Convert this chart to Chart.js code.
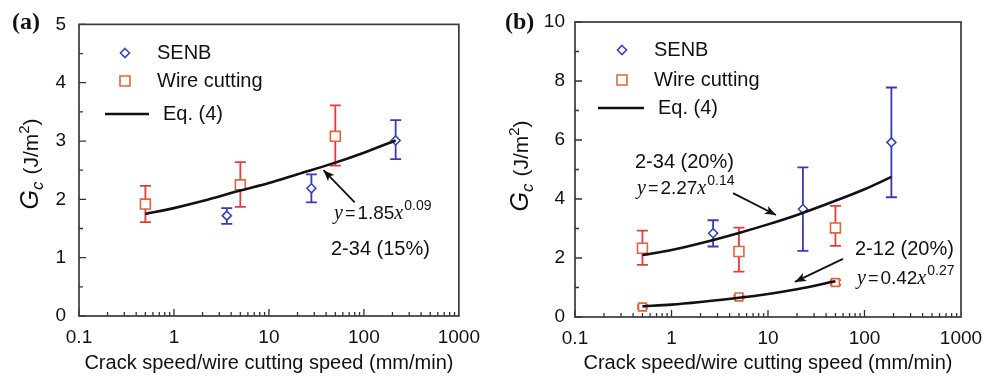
<!DOCTYPE html>
<html><head><meta charset="utf-8">
<script src="https://cdn.jsdelivr.net/npm/chart.js@4"></script>
<style>
html,body{margin:0;padding:0;background:#fff;}
#wrap{position:relative;width:993px;height:377px;overflow:hidden;background:#fff;}
.pane{position:absolute;top:0;}
canvas{display:block;}
</style></head><body>
<div id="wrap">
<div class="pane" style="left:0;width:490px;height:377px"><canvas id="ca" width="490" height="377"></canvas></div>
<div class="pane" style="left:490px;width:503px;height:377px"><canvas id="cb" width="503" height="377"></canvas></div>
</div>
<script>
// ---- tick labels / text ----
const xTickValues = [0.1, 1, 10, 100, 1000];
const aYTicks = [0, 1, 2, 3, 4, 5];
const bYTicks = [0, 2, 4, 6, 8, 10];
const xTitle = 'Crack speed/wire cutting speed (mm/min)';
const legendLabels = ['SENB', 'Wire cutting', 'Eq. (4)'];

// ---- panel (a): 2-34 (15%) ----
const aWireX = [0.5, 5, 50];
const aWireY = [1.92, 2.25, 3.08];
const aWireLo = [1.61, 1.87, 2.58];
const aWireHi = [2.23, 2.64, 3.61];
const aSenbX = [3.6, 28, 216];
const aSenbY = [1.72, 2.19, 3.01];
const aSenbLo = [1.58, 1.95, 2.69];
const aSenbHi = [1.85, 2.43, 3.36];
const aFitX = [0.5, 1, 2, 5, 10, 20, 50, 100, 216];
const aFitY = [1.75, 1.85, 1.97, 2.15, 2.28, 2.43, 2.63, 2.80, 3.01];

// ---- panel (b): 2-34 (20%) and 2-12 (20%) ----
const bWireX = [0.5, 5, 50];
const bWireY = [2.33, 2.22, 3.02];
const bWireLo = [1.77, 1.54, 2.41];
const bWireHi = [2.93, 3.03, 3.77];
const bSenbX = [2.7, 23, 190];
const bSenbY = [2.84, 3.66, 5.92];
const bSenbLo = [2.39, 2.24, 4.06];
const bSenbHi = [3.28, 5.07, 7.78];
const bWire2X = [0.5, 5, 50];
const bWire2Y = [0.34, 0.68, 1.17];
const bWire2Lo = [0.29, 0.64, 1.09];
const bWire2Hi = [0.39, 0.72, 1.25];
const bFit1X = [0.5, 1, 2, 5, 10, 20, 50, 100, 190];
const bFit1Y = [2.10, 2.27, 2.50, 2.85, 3.14, 3.46, 3.94, 4.33, 4.75];
const bFit2X = [0.5, 1, 2, 5, 10, 20, 50];
const bFit2Y = [0.36, 0.42, 0.51, 0.65, 0.78, 0.94, 1.21];

const SANS = '"Liberation Sans", Arial, Helvetica, sans-serif';
const SERIF = '"Liberation Serif", "Times New Roman", serif';
const INK = '#111';
const BLUE = '#3446b4', BLUE_BAR = '#3a3ab6', RED = '#e2643e', RED_BAR = '#e43c3c';

function pts(xs, ys) { return xs.map((x, i) => ({ x: x, y: ys[i] })); }

function markerDS(label, xs, ys, lo, hi, style, color, barColor, radius) {
  return { type: 'scatter', label: label, data: pts(xs, ys), errLo: lo, errHi: hi, barColor: barColor,
    pointStyle: style, pointRadius: radius, pointHoverRadius: radius, pointBorderColor: color,
    pointBackgroundColor: '#fff', pointBorderWidth: 1.6, showLine: false };
}
function fitDS(label, xs, ys) {
  return { type: 'line', label: label, data: pts(xs, ys), borderColor: '#111', borderWidth: 2.6,
    pointRadius: 0, fill: false, cubicInterpolationMode: 'monotone' };
}

function drawRich(ctx, x, y, pieces) {
  let cx = x;
  pieces.forEach(p => {
    ctx.font = p.font;
    ctx.fillText(p.t, cx, y + (p.dy || 0));
    cx += ctx.measureText(p.t).width + (p.gap || 0);
  });
}
function richWidth(ctx, pieces) {
  let w = 0;
  pieces.forEach(p => { ctx.font = p.font; w += ctx.measureText(p.t).width + (p.gap || 0); });
  return w;
}
function eqPieces(coef, expo) {
  return [
    { t: 'y', font: 'italic 20px ' + SERIF, gap: 2 },
    { t: '=', font: '18px ' + SANS, gap: 2 },
    { t: coef, font: '19px ' + SANS },
    { t: 'x', font: 'italic 20px ' + SERIF, gap: 1 },
    { t: expo, font: '14px ' + SANS, dy: -9 }
  ];
}

function decoPlugin(spec) {
  return {
    id: 'deco',
    beforeDatasetsDraw(chart) {
      const ctx = chart.ctx, xs = chart.scales.x, ys = chart.scales.y;
      chart.data.datasets.forEach(ds => {
        if (!ds.errLo) return;
        ctx.save();
        ctx.strokeStyle = ds.barColor; ctx.lineWidth = 1.8;
        ds.data.forEach((p, i) => {
          const x = xs.getPixelForValue(p.x);
          const y1 = ys.getPixelForValue(ds.errLo[i]);
          const y2 = ys.getPixelForValue(ds.errHi[i]);
          ctx.beginPath();
          ctx.moveTo(x, y1); ctx.lineTo(x, y2);
          ctx.moveTo(x - 5.5, y1); ctx.lineTo(x + 5.5, y1);
          ctx.moveTo(x - 5.5, y2); ctx.lineTo(x + 5.5, y2);
          ctx.stroke();
        });
        ctx.restore();
      });
    },
    afterDraw(chart) {
      const ctx = chart.ctx, xs = chart.scales.x, ys = chart.scales.y, a = chart.chartArea;
      ctx.save();
      // inward ticks
      ctx.strokeStyle = '#333'; ctx.lineWidth = 1.3;
      ctx.beginPath();
      [0.1, 1, 10, 100].forEach(d => {
        for (let m = 1; m <= 9; m++) {
          const px = xs.getPixelForValue(d * m);
          const len = m === 1 ? 7 : 4;
          ctx.moveTo(px, a.bottom); ctx.lineTo(px, a.bottom - len);
        }
      });
      for (let v = spec.yMin; v <= spec.yMax + 1e-9; v += spec.yMinor) {
        const py = ys.getPixelForValue(v);
        const major = spec.yTicks.some(t => Math.abs(t - v) < 1e-9);
        ctx.moveTo(a.left, py); ctx.lineTo(a.left + (major ? 7 : 4), py);
      }
      ctx.stroke();
      // frame
      ctx.strokeStyle = '#3a3a3a'; ctx.lineWidth = 1.7;
      ctx.strokeRect(a.left, a.top, a.right - a.left, a.bottom - a.top);

      ctx.fillStyle = INK; ctx.textBaseline = 'alphabetic'; ctx.textAlign = 'left';
      // legend
      const L = spec.legend;
      ctx.strokeStyle = BLUE; ctx.lineWidth = 1.6; ctx.fillStyle = '#fff';
      ctx.beginPath();
      ctx.moveTo(L.mx, L.y1 - 4.5); ctx.lineTo(L.mx + 4.5, L.y1); ctx.lineTo(L.mx, L.y1 + 4.5); ctx.lineTo(L.mx - 4.5, L.y1); ctx.closePath();
      ctx.fill(); ctx.stroke();
      ctx.strokeStyle = RED;
      ctx.beginPath(); ctx.rect(L.mx - 5, L.y2 - 5, 10, 10); ctx.fill(); ctx.stroke();
      ctx.strokeStyle = '#111'; ctx.lineWidth = 2.4;
      ctx.beginPath(); ctx.moveTo(L.l0, L.y3); ctx.lineTo(L.l1, L.y3); ctx.stroke();
      ctx.fillStyle = INK; ctx.font = '20px ' + SANS; ctx.textBaseline = 'middle';
      ctx.fillText(legendLabels[0], L.tx, L.y1);
      ctx.fillText(legendLabels[1], L.tx, L.y2);
      ctx.fillText(legendLabels[2], L.tx3, L.y3);
      // annotations
      ctx.textBaseline = 'alphabetic';
      spec.notes.forEach(n => {
        ctx.font = '20px ' + SANS;
        ctx.fillText(n.label, n.lx, n.ly);
        drawRich(ctx, n.ex, n.ey, eqPieces(n.coef, n.expo));
        const tx = xs.getPixelForValue(n.arrow[0]), ty = ys.getPixelForValue(n.arrow[1]);
        const hx = xs.getPixelForValue(n.arrow[2]), hy = ys.getPixelForValue(n.arrow[3]);
        ctx.strokeStyle = '#111'; ctx.lineWidth = 1.8;
        ctx.beginPath(); ctx.moveTo(tx, ty); ctx.lineTo(hx, hy); ctx.stroke();
        const ang = Math.atan2(hy - ty, hx - tx), hl = 12, hw = 0.38;
        ctx.beginPath();
        ctx.moveTo(hx, hy);
        ctx.lineTo(hx - hl * Math.cos(ang - hw), hy - hl * Math.sin(ang - hw));
        ctx.lineTo(hx - hl * 0.7 * Math.cos(ang), hy - hl * 0.7 * Math.sin(ang));
        ctx.lineTo(hx - hl * Math.cos(ang + hw), hy - hl * Math.sin(ang + hw));
        ctx.closePath(); ctx.fillStyle = '#111'; ctx.fill();
        ctx.fillStyle = INK;
      });
      // y title
      const tp = [
        { t: 'G', font: 'italic 25px ' + SANS },
        { t: 'c', font: 'italic 17px ' + SANS, dy: 5, gap: 7 },
        { t: '(J/m', font: '21px ' + SANS },
        { t: '2', font: '15px ' + SANS, dy: -9 },
        { t: ')', font: '21px ' + SANS }
      ];
      ctx.save();
      ctx.translate(spec.ytx, spec.yty);
      ctx.rotate(-Math.PI / 2);
      const w = richWidth(ctx, tp);
      drawRich(ctx, -w / 2, 8, tp);
      ctx.restore();
      // panel label
      ctx.font = 'bold 24px ' + SERIF; ctx.textBaseline = 'middle';
      ctx.fillText(spec.panel, spec.px, spec.py);
      ctx.restore();
    }
  };
}

function makePanel(id, spec, datasets) {
  const tickFont = { family: SANS, size: 19 };
  return new Chart(document.getElementById(id), {
    type: 'scatter',
    data: { datasets: datasets },
    options: {
      responsive: false, animation: false, events: [],
      layout: { padding: { left: 0, right: spec.padR, top: spec.padT, bottom: 0 } },
      plugins: { legend: { display: false }, tooltip: { enabled: false } },
      scales: {
        x: {
          type: 'logarithmic', min: 0.1, max: 1000,
          afterBuildTicks: s => { s.ticks = xTickValues.map(v => ({ value: v })); },
          afterFit: s => { s.height = spec.xH; },
          grid: { display: false, drawTicks: false }, border: { display: false },
          ticks: { font: tickFont, color: INK, padding: spec.xPad, autoSkip: false, maxRotation: 0, minRotation: 0,
                   callback: v => String(v) },
          title: { display: true, text: xTitle, color: INK, font: { family: SANS, size: 20 }, padding: { top: 0, bottom: 2 } }
        },
        y: {
          min: spec.yMin, max: spec.yMax,
          afterBuildTicks: s => { s.ticks = spec.yTicks.map(v => ({ value: v })); },
          afterFit: s => { s.width = spec.yW; },
          grid: { display: false, drawTicks: false }, border: { display: false },
          ticks: { font: tickFont, color: INK, padding: spec.yPad, callback: v => String(v) }
        }
      }
    },
    plugins: [decoPlugin(spec)]
  });
}

makePanel('ca', {
  padR: 24, padT: 18, xH: 61, yW: 79, xPad: 10, yPad: 13,
  yMin: 0, yMax: 5, yMinor: 0.5, yTicks: aYTicks,
  legend: { mx: 125, y1: 53, y2: 81, y3: 114, tx: 157, l0: 105, l1: 149, tx3: 163 },
  notes: [{ label: '2-34 (15%)', lx: 331, ly: 255, ex: 334, ey: 219, coef: '1.85', expo: '0.09',
            arrow: [80, 1.95, 37.5, 2.5] }],
  ytx: 30, yty: 164, panel: '(a)', px: 12, py: 23
}, [
  fitDS(legendLabels[2], aFitX, aFitY),
  markerDS(legendLabels[1], aWireX, aWireY, aWireLo, aWireHi, 'rect', RED, RED_BAR, 7),
  markerDS(legendLabels[0], aSenbX, aSenbY, aSenbLo, aSenbHi, 'rectRot', BLUE, BLUE_BAR, 4.5)
]);

makePanel('cb', {
  padR: 32, padT: 22, xH: 60, yW: 85, xPad: 10, yPad: 10,
  yMin: 0, yMax: 10, yMinor: 1, yTicks: bYTicks,
  legend: { mx: 132, y1: 50, y2: 80, y3: 108, tx: 164, l0: 108, l1: 154, tx3: 168 },
  notes: [
    { label: '2-34 (20%)', lx: 145, ly: 168, ex: 147, ey: 194, coef: '2.27', expo: '0.14',
      arrow: [4.34, 4.2, 12.1, 3.46] },
    { label: '2-12 (20%)', lx: 365, ly: 255, ex: 367, ey: 284, coef: '0.42', expo: '0.27',
      arrow: [59.8, 1.97, 19.0, 1.19] }
  ],
  ytx: 30, yty: 166, panel: '(b)', px: 15, py: 23
}, [
  fitDS(legendLabels[2], bFit1X, bFit1Y),
  fitDS(legendLabels[2], bFit2X, bFit2Y),
  markerDS(legendLabels[1], bWireX, bWireY, bWireLo, bWireHi, 'rect', RED, RED_BAR, 7),
  markerDS(legendLabels[1], bWire2X, bWire2Y, bWire2Lo, bWire2Hi, 'rect', RED, RED_BAR, 5.5),
  markerDS(legendLabels[0], bSenbX, bSenbY, bSenbLo, bSenbHi, 'rectRot', BLUE, BLUE_BAR, 4.5)
]);
</script>
</body></html>
